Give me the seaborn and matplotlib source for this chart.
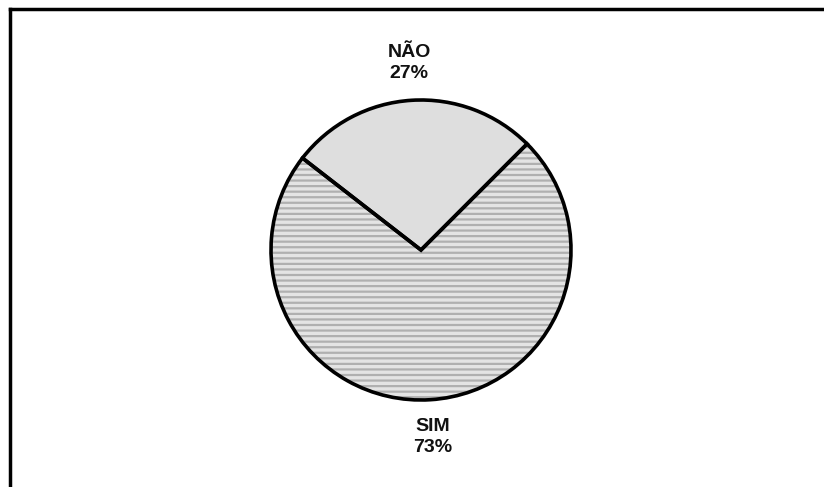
import numpy as np
import matplotlib
matplotlib.use("Agg")
import matplotlib.pyplot as plt
import seaborn as sns

# Survey answers and their shares (%)
answers = ["NÃO", "SIM"]
shares = [27, 73]

sns.set_theme(style="white")
plt.rcParams["font.family"] = ["Liberation Sans", "DejaVu Sans"]
plt.rcParams["hatch.linewidth"] = 1.6

W, H = 824, 487
fig = plt.figure(figsize=(W / 100, H / 100), dpi=100)
fig.patch.set_facecolor("white")

# Axes in pixel-like units; only the left and top border lines are shown
left_px, top_px = 10, 9
ax = fig.add_axes([left_px / W, 0, 1 - left_px / W, 1 - top_px / H])
ax.set_facecolor("white")

cx, cy, r = 421, H - 250, 150
faces = ["#dedede", "#e4e4e4"]
hatches = [None, "---"]
hatch_cols = ["#dedede", "#b0b0b0"]

# Textured fill
fill_wedges, _ = ax.pie(shares, startangle=45, counterclock=True,
                        center=(cx, cy), radius=r, colors=faces,
                        wedgeprops=dict(linewidth=0))
for w, h, hc in zip(fill_wedges, hatches, hatch_cols):
    if h:
        w.set_hatch(h)
    w.set_edgecolor(hc)
    w.set_linewidth(0)

# Black outlines on top
outline_wedges, _ = ax.pie(shares, startangle=45, counterclock=True,
                           center=(cx, cy), radius=r,
                           wedgeprops=dict(fill=False, edgecolor="black",
                                           linewidth=2.6))

# Category labels with percentages, centred outside each wedge
for w, name, val in zip(outline_wedges, answers, shares):
    mid = np.deg2rad((w.theta1 + w.theta2) / 2)
    d = 1.25 * r
    ax.text(cx + d * np.cos(mid), cy + d * np.sin(mid),
            f"{name}\n{val}%", ha="center", va="center",
            fontsize=14, fontweight="bold", color="#111111",
            linespacing=1.3)

ax.set_xlim(left_px, W)
ax.set_ylim(0, H - top_px)
ax.set_aspect("equal", adjustable="datalim")
ax.set_xticks([])
ax.set_yticks([])
ax.set_frame_on(True)
for side in ["right", "bottom"]:
    ax.spines[side].set_visible(False)
for side in ["left", "top"]:
    ax.spines[side].set_visible(True)
    ax.spines[side].set_color("black")
    ax.spines[side].set_linewidth(2.5)

fig.savefig("out.png", dpi=100, facecolor="white")
